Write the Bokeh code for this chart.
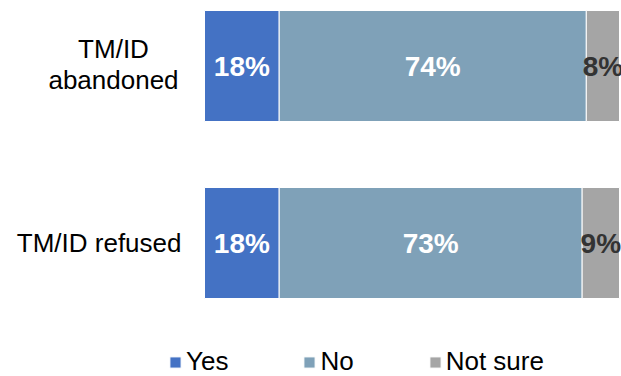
from bokeh.plotting import figure
from bokeh.models import ColumnDataSource, Legend, LegendItem, Label, Range1d
from bokeh.core.properties import value
from bokeh.embed import file_html
from bokeh.resources import INLINE

categories = ["TM/ID abandoned", "TM/ID refused"]
cat_lines = [["TM/ID", "abandoned"], ["TM/ID refused"]]
series = ["Yes", "No", "Not sure"]
yes = [18, 18]
no = [74, 73]
not_sure = [8, 9]
colors = ["#4472C4", "#7FA1B8", "#A5A5A5"]
label_colors = ["white", "white", "#333333"]

n = len(categories)
ypos = [n - 1 - i for i in range(n)]

src = ColumnDataSource(dict(y=ypos, Yes=yes, No=no, NotSure=not_sure))

# frame spans whole canvas; 0..100 maps to px 204..619
W, H = 621, 376
ppu_x = 415 / 100.0
ppu_y = 177.0
x0 = -204 / ppu_x
x1 = 100 + (W - 619) / ppu_x
y1 = 1 + 65.5 / ppu_y
y0 = 0 - (H - 242.5) / ppu_y

p = figure(width=W, height=H, output_backend="svg", toolbar_location=None,
           x_range=Range1d(x0, x1), y_range=Range1d(y0, y1),
           min_border=0)
p.outline_line_color = None
p.xaxis.visible = False
p.yaxis.visible = False
p.xgrid.visible = False
p.ygrid.visible = False
p.background_fill_color = "white"
p.border_fill_color = "white"

renderers = p.hbar_stack(["Yes", "No", "NotSure"], y="y", height=111 / ppu_y, source=src,
                         color=colors, line_color="white", line_width=1)

# value labels
vals = [yes, no, not_sure]
for i in range(n):
    left = 0
    for s, v in enumerate(vals):
        val = v[i]
        p.text(x=[left + val / 2], y=[ypos[i]], text=[f"{val}%"],
               text_font=value("Liberation Sans"), text_font_style="bold",
               text_font_size="28px", text_color=label_colors[s],
               text_align="center", text_baseline="middle")
        left += val

# category labels
for i in range(n):
    lines = cat_lines[i]
    m = len(lines)
    for j, t in enumerate(lines):
        off = (j - (m - 1) / 2) * (31 / ppu_y)
        if m > 1:
            p.add_layout(Label(x=(113 - 204) / ppu_x, y=ypos[i] + 1.5 / ppu_y - off, text=t,
                               text_font="Liberation Sans", text_font_size="26px",
                               text_color="#000000", text_align="center",
                               text_baseline="middle"))
        else:
            p.add_layout(Label(x=(181 - 204) / ppu_x, y=ypos[i], text=t,
                               text_font="Liberation Sans", text_font_size="26px",
                               text_color="#000000", text_align="right",
                               text_baseline="middle"))

legend = Legend(items=[LegendItem(label=s, renderers=[r]) for s, r in zip(series, renderers)],
                orientation="horizontal", location=(168, -1),
                glyph_width=14, glyph_height=14, label_standoff=4, spacing=74,
                padding=0, margin=0, border_line_color=None, background_fill_alpha=0,
                label_text_font="Liberation Sans", label_text_font_size="26px",
                label_text_color="#000000")
p.add_layout(legend, "center")

open("out.html", "w").write(file_html(p, INLINE))
